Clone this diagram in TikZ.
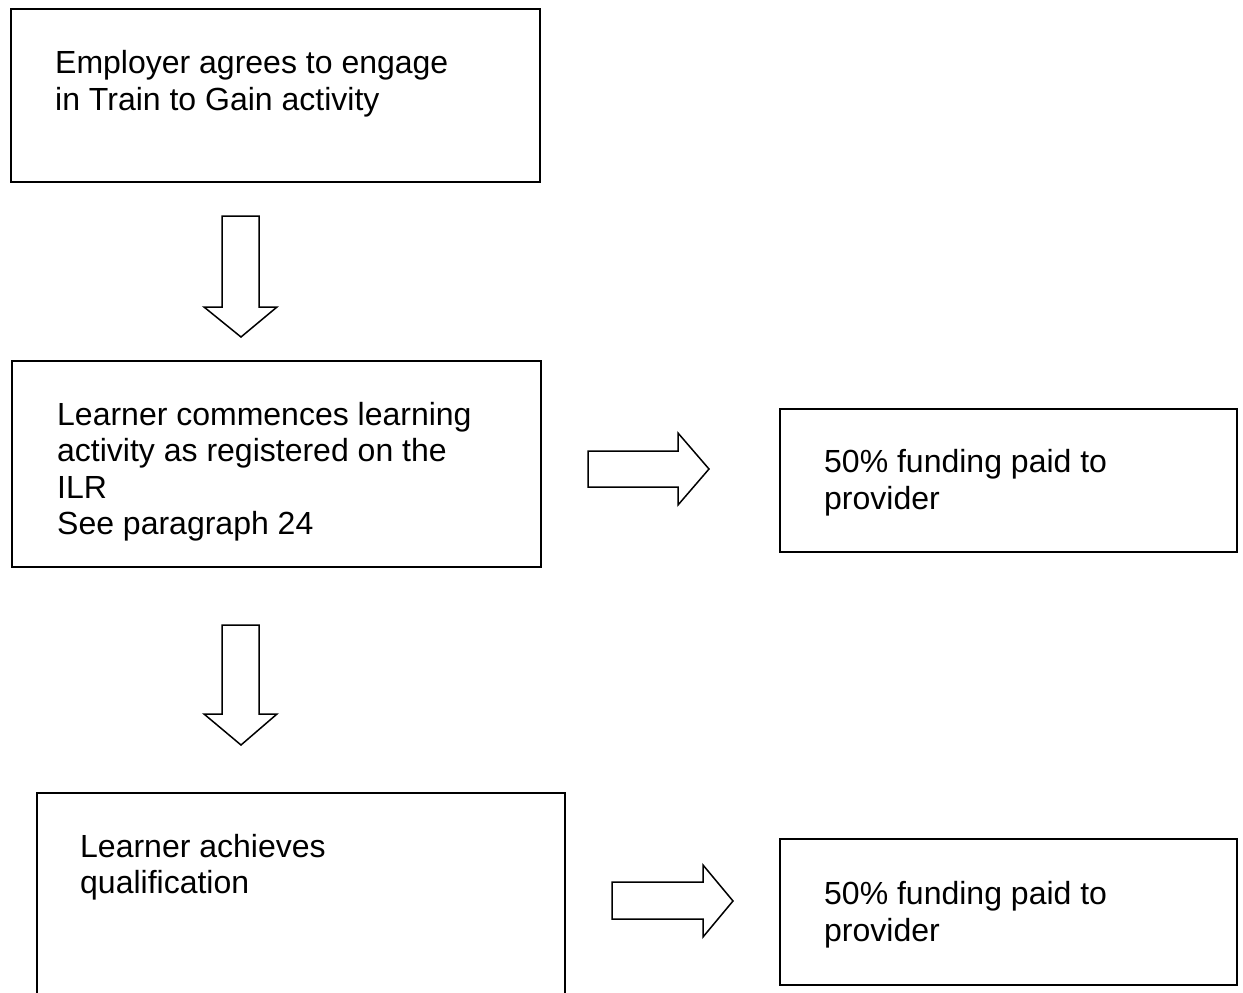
\documentclass[tikz,border=0pt]{standalone}
\usepackage{fontspec}
\setmainfont{Liberation Sans}
\begin{document}
\begin{tikzpicture}[x=1pt,y=-1pt,
  box/.style={draw=black,line width=1.5pt},
  blockarrow/.style={draw=black,line width=1.5pt,line join=miter,fill=white},
  txt/.style={anchor=west,align=left,inner sep=0pt,font=\fontsize{32}{36.5}\selectfont}]
\useasboundingbox (0,0) rectangle (1243,993);
% boxes
\draw[box] (11,9) rectangle (540,182);
\node[txt] (t1) at (55,83.5) {Employer agrees to engage\\in Train to Gain activity};
\draw[box] (12,361) rectangle (541,567);
\node[txt] (t2) at (57,471.5) {Learner commences learning\\activity as registered on the\\ILR\\See paragraph 24};
\draw[box] (780,409) rectangle (1237,552);
\node[txt] (t3) at (824,482.5) {50\% funding paid to\\provider};
\draw[box] (37,1000) -- (37,793) -- (565,793) -- (565,1000);
\node[txt] (t4) at (80,867) {Learner achieves\\qualification};
\draw[box] (780,839) rectangle (1237,985);
\node[txt] (t5) at (824,914.5) {50\% funding paid to\\provider};
% down arrows
\draw[blockarrow] (222,216) -- (259,216) -- (259,307) -- (277,307) -- (241,337) -- (204,307) -- (222,307) -- cycle;
\draw[blockarrow] (222,625) -- (259,625) -- (259,714) -- (277,714) -- (241,745) -- (204,714) -- (222,714) -- cycle;
% right arrows
\draw[blockarrow] (588,451) -- (678,451) -- (678,433) -- (709,469) -- (678,505) -- (678,487) -- (588,487) -- cycle;
\draw[blockarrow] (612,882) -- (703,882) -- (703,865) -- (733,901) -- (703,937) -- (703,919) -- (612,919) -- cycle;
\end{tikzpicture}
\end{document}
